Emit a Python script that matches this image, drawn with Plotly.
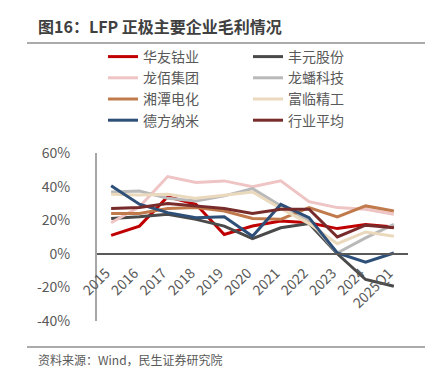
import plotly.graph_objects as go

categories = ["2015", "2016", "2017", "2018", "2019", "2020", "2021", "2022", "2023", "2024", "2025Q1"]

huayou   = [11, 16.5, 34, 29.5, 11.5, 16.5, 19.5, 18.5, 15, 17.5, 16]
fengyuan = [21, 22, 23.5, 20.5, 16.5, 9, 15.5, 18, 0, -15.3, -19.3]
longbai  = [18.5, 28, 46, 42.4, 43.4, 40, 43.4, 31, 27.5, 26.5, 23.5]
longpan  = [36.8, 37.4, 33, 31.5, 34.5, 38.8, 28.6, 20, 0.5, 9.5, 17.5]
xiangtan = [24, 24, 27, 27.5, 25.5, 21, 20.5, 27.5, 22, 28.5, 25.5]
fulin    = [35.4, 35, 35.4, 33, 34.8, 36.8, 27, 18, 6, 13, 10.5]
defang   = [40.5, 29.5, 24.5, 21.5, 22, 10.5, 29.4, 21.5, 0.5, -5, 0.5]
avg      = [27, 27.5, 30, 28.6, 27, 24, 26.5, 26.5, 10, 17, 15.5]

series_names = ["华友钴业", "丰元股份", "龙佰集团", "龙蟠科技", "湘潭电化", "富临精工", "德方纳米", "行业平均"]
series_values = [huayou, fengyuan, longbai, longpan, xiangtan, fulin, defang, avg]
series_colors = ["#c00000", "#4a4a4a", "#efc4c4", "#b9b9b9", "#c07a4b", "#ead9bc", "#2d4f78", "#782b2b"]

ytick_vals = [-40, -20, 0, 20, 40, 60]
ytick_text = ["-40%", "-20%", "0%", "20%", "40%", "60%"]

FONT = "Noto Sans CJK SC"
W, H = 433, 375
L, R, T, B = 89, 33, 145, 62
PW, PH = W - L - R, H - T - B


def px(x):
    return (x - L) / PW


def py(y):
    return (H - B - y) / PH


fig = go.Figure()
for name, vals, col in zip(series_names, series_values, series_colors):
    fig.add_trace(go.Scatter(
        x=categories, y=vals, name=name, mode="lines",
        line=dict(color=col, width=3),
    ))

fig.update_layout(
    width=W, height=H,
    margin=dict(l=L, r=R, t=T, b=B, autoexpand=False),
    paper_bgcolor="white", plot_bgcolor="white",
    font=dict(family=FONT, color="#595959", size=14),
    showlegend=True,
    legend=dict(
        orientation="h",
        xref="paper", yref="paper",
        x=px(95), y=py(33),
        xanchor="left", yanchor="top",
        entrywidth=100, entrywidthmode="pixels",
        font=dict(family=FONT, size=14, color="#595959"),
        bgcolor="rgba(0,0,0,0)",
        tracegroupgap=0,
        itemclick=False,
    ),
    xaxis=dict(
        type="category",
        range=[-0.5, 10.5],
        anchor="free", position=0.4,
        showline=True, linecolor="#595959", linewidth=1.5,
        showgrid=False, zeroline=False,
        ticks="", tickangle=-45,
        ticklabelstandoff=5, ticklabelshift=-5,
        tickfont=dict(family=FONT, size=14, color="#595959"),
    ),
    yaxis=dict(
        range=[-40, 60],
        tickvals=ytick_vals, ticktext=ytick_text,
        showline=True, linecolor="#a6a6a6", linewidth=2,
        showgrid=False, zeroline=False,
        ticks="", ticklabelstandoff=22,
        tickfont=dict(family=FONT, size=14, color="#595959"),
    ),
    shapes=[
        dict(type="line", xref="paper", yref="paper",
             x0=px(19), x1=px(426), y0=py(35), y1=py(35),
             line=dict(color="#595959", width=1.2)),
        dict(type="line", xref="paper", yref="paper",
             x0=px(19), x1=px(426), y0=py(339), y1=py(339),
             line=dict(color="#595959", width=1.2)),
    ],
    annotations=[
        dict(text="<b>图16：LFP 正极主要企业毛利情况</b>", xref="paper", yref="paper",
             x=px(28), y=py(18), xanchor="left", yanchor="middle", showarrow=False,
             font=dict(family=FONT, size=16, color="#404040")),
        dict(text="资料来源：Wind，民生证券研究院", xref="paper", yref="paper",
             x=px(28), y=py(351), xanchor="left", yanchor="middle", showarrow=False,
             font=dict(family=FONT, size=12, color="#595959")),
    ],
)

fig.write_html("out.html")
